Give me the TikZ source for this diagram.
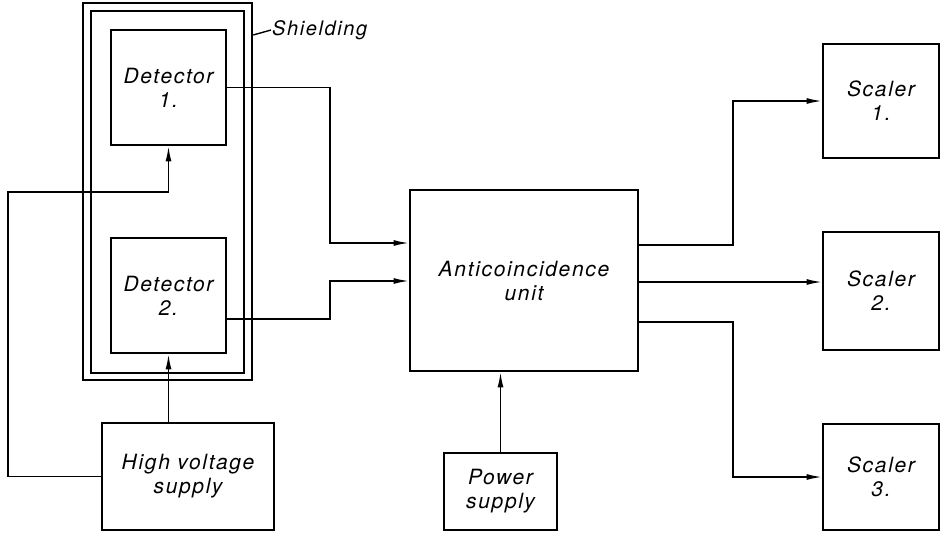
\documentclass[tikz,border=0pt]{standalone}
\usepackage{fontspec}
\setmainfont[LetterSpace=8]{TeX Gyre Heros}
\usetikzlibrary{arrows.meta}
\begin{document}
\begin{tikzpicture}[x=1pt,y=-1pt,
  box/.style={draw, line width=2.8pt, inner sep=0pt, align=center,
    font=\fontsize{21}{24}\selectfont\itshape},
  shield/.style={draw, line width=2.5pt, inner sep=0pt},
  wire/.style={line width=1.4pt},
  arr/.style={wire, -{Latex[length=15pt,width=6pt]}}]
\useasboundingbox (0,0) rectangle (944,535);
% shielding
\node[shield, minimum width=169pt, minimum height=377pt] (shout) at (167.5,191.5) {};
\node[shield, minimum width=153pt, minimum height=362pt] (shin) at (167.5,192) {};
% boxes
\node[box, minimum width=115pt, minimum height=115pt] (det1) at (168.5,87.5) {Detector\\1.};
\node[box, minimum width=115pt, minimum height=115pt] (det2) at (168.5,295.5) {Detector\\2.};
\node[box, minimum width=228pt, minimum height=181pt] (anti) at (524,280.5) {Anticoincidence\\unit};
\node[box, minimum width=172pt, minimum height=107pt] (hv) at (188,476.5) {High voltage\\supply};
\node[box, minimum width=113pt, minimum height=77pt] (pw) at (500.5,491.5) {Power\\supply};
\node[box, minimum width=116pt, minimum height=114pt] (sc1) at (881,101) {Scaler\\1.};
\node[box, minimum width=116pt, minimum height=118pt] (sc2) at (881,291) {Scaler\\2.};
\node[box, minimum width=116pt, minimum height=106pt] (sc3) at (881,477) {Scaler\\3.};
% shielding label
\coordinate (shl) at (271,30);
\draw[wire] (shout.east |- 0,35) -- (shl);
\node[anchor=west, inner sep=1pt, font=\fontsize{20}{24}\selectfont\itshape] (shtxt) at (shl) {Shielding};
% wires
\draw[arr] (det1.east) -- (330,87.5) |- (anti.west |- 0,243);
\draw[arr] (det2.east |- 0,319) -- (330,319) |- (anti.west |- 0,281);
\draw[arr] (hv.north -| det2.south) -- (det2.south);
\draw[arr] (hv.west) -- (8,476.5) |- (det1.south |- 0,192) -- (det1.south);
\draw[arr] (pw.north) -- (pw.north |- anti.south);
\draw[arr] (anti.east |- 0,245) -| (733,150) |- (sc1.west);
\draw[arr] (anti.east |- 0,282) -- (sc2.west |- 0,282);
\draw[arr] (anti.east |- 0,322) -| (733,400) |- (sc3.west);
\end{tikzpicture}
\end{document}
